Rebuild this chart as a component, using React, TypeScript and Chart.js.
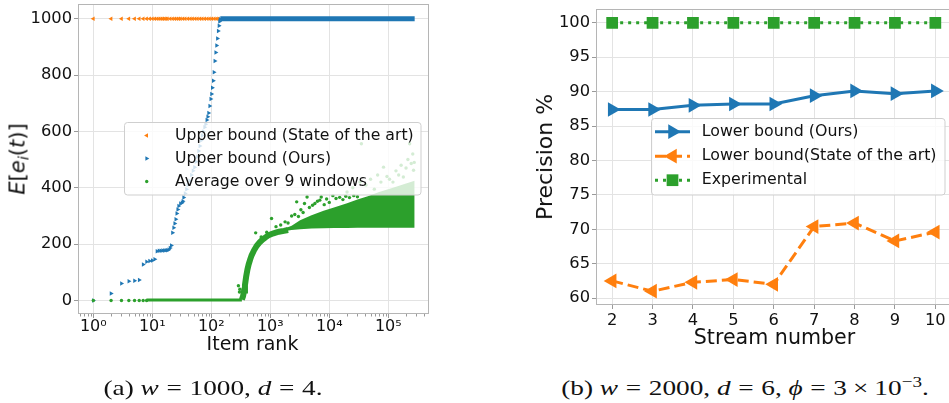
import React, { useEffect, useRef } from 'react';
import { Chart, registerables } from 'chart.js';

Chart.register(...registerables);

const FONT = "'DejaVu Sans', sans-serif";
const BLUE = '#1f77b4';
const ORANGE = '#ff7f0e';
const GREEN = '#2ca02c';
const GRID = '#e3e3e3';
const TICK = '#9a9a9a';
const FRAME = '#b5b5b5';

// ---------------- Panel (a) data ----------------
const rankTicks = [1, 10, 100, 1000, 10000, 100000];
const rankTickLabels = ['10⁰', '10¹', '10²', '10³', '10⁴', '10⁵'];
const errorTicks = [0, 200, 400, 600, 800, 1000];
const legendLabelsA = ['Upper bound (State of the art)', 'Upper bound (Ours)', 'Average over 9 windows'];

const sotaRanks = [1, 2, 3, 4, 5, 6, 7, 8, 9, 10, 11, 12, 13, 14, 15, 16, 17, 18, 20, 22, 24, 26, 28, 30, 33, 36, 40, 44, 48, 53, 58, 64, 70, 77, 85, 93, 102, 112, 122, 131];
const sotaValues = [1000, 1000, 1000, 1000, 1000, 1000, 1000, 1000, 1000, 1000, 1000, 1000, 1000, 1000, 1000, 1000, 1000, 1000, 1000, 1000, 1000, 1000, 1000, 1000, 1000, 1000, 1000, 1000, 1000, 1000, 1000, 1000, 1000, 1000, 1000, 1000, 1000, 1000, 1000, 1000];

const oursRanks = [1, 2, 3, 4, 5, 6, 7, 8, 9, 10, 11, 12, 13, 14, 15, 16, 17, 18, 19, 20, 21, 22, 23, 24, 25, 26, 27, 28, 30, 32, 33, 34, 36, 38, 40, 43, 46, 49, 52, 55, 58, 61, 64, 67, 70, 73, 77, 80, 84, 87, 90, 94, 98, 101, 104, 108, 111, 115, 119, 123, 127, 131, 135, 138, 141];
const oursValues = [0, 25, 60, 68, 70, 73, 128, 137, 140, 142, 146, 175, 176, 176, 177, 177, 178, 178, 180, 186, 195, 240, 258, 273, 288, 309, 323, 335, 344, 347, 352, 365, 380, 395, 410, 425, 445, 460, 473, 492, 510, 530, 548, 568, 585, 600, 615, 625, 640, 652, 665, 690, 715, 733, 755, 780, 810, 850, 880, 905, 930, 956, 975, 990, 998];
const oursFlatRanks = [142, 280000];
const oursFlatValues = [1000, 1000];

const avgZeroRanks = [1, 2, 3, 4, 5, 6, 7, 8];
const avgZeroValues = [0, 0, 0, 0, 0, 0, 0, 0];
const avgFlatRanks = [8, 330];
const avgFlatValues = [2, 2];
const avgCurveRanks = [330, 345, 360, 372, 390, 410, 430, 455, 482, 530, 590, 660, 740, 830, 930, 1050, 1200, 1400, 1700, 2000];
const avgCurveValues = [3, 15, 35, 55, 85, 110, 128, 145, 160, 178, 194, 206, 216, 224, 231, 236, 240, 244, 247, 250];
const bandRanks = [1500, 2300, 3200, 5000, 8000, 12000, 20000, 30000, 45000, 70000, 120000, 200000, 280000];
const bandLow = [244, 250, 253, 255, 256, 257, 257, 258, 258, 258, 258, 258, 258];
const bandHigh = [250, 265, 285, 302, 318, 330, 345, 358, 370, 385, 400, 415, 425];
const avgOutlierRanks = [288, 300, 305, 398, 440, 565, 700, 870, 1050, 1250, 1500, 1780, 2000, 2300, 2600, 2800, 3000, 3300, 3600, 3800, 4200, 4600, 5200, 5700, 6300, 6900, 7300, 8200, 9000, 10000, 11500, 13000, 15000, 17000, 19000, 22000, 26000, 30000,
  20000, 25000, 33000, 35000, 42000, 50000, 58000, 66000, 75000, 83000, 95000, 105000, 120000, 135000, 150000, 165000, 180000, 200000, 215000, 230000, 245000, 260000, 268000, 275000];
const avgOutlierValues = [52, 30, 40, 83, 125, 240, 225, 242, 291, 262, 268, 279, 275, 300, 305, 350, 298, 322, 312, 344, 367, 330, 338, 344, 352, 356, 367, 340, 360, 348, 372, 362, 366, 358, 370, 365, 372, 368,
  385, 400, 420, 556, 410, 430, 395, 445, 420, 473, 440, 430, 420, 460, 445, 480, 438, 470, 500, 556, 486, 520, 462, 490];

// ---------------- Panel (b) data ----------------
const streams = [2, 3, 4, 5, 6, 7, 8, 9, 10];
const oursLower = [87.4, 87.4, 88.0, 88.2, 88.2, 89.4, 90.1, 89.7, 90.1];
const sotaLower = [62.5, 61.0, 62.3, 62.7, 62.0, 70.4, 70.9, 68.3, 69.6];
const experimental = [100, 100, 100, 100, 100, 100, 100, 100, 100];
const precisionTicks = [60, 65, 70, 75, 80, 85, 90, 95, 100];
const legendLabelsB = ['Lower bound (Ours)', 'Lower bound(State of the art)', 'Experimental'];

type Marker = { style: 'triangle' | 'rect' | 'circle'; rotation: number; radius: number };

function pts(xs: number[], ys: number[]) {
  return xs.map((x, i) => ({ x, y: ys[i] }));
}

function drawMarker(ctx: CanvasRenderingContext2D, m: Marker, x: number, y: number, color: string) {
  ctx.save();
  ctx.translate(x, y);
  ctx.rotate((m.rotation * Math.PI) / 180);
  ctx.fillStyle = color;
  ctx.beginPath();
  if (m.style === 'triangle') {
    for (let k = 0; k < 3; k++) {
      const a = (k * 2 * Math.PI) / 3;
      const px = Math.sin(a) * m.radius;
      const py = -Math.cos(a) * m.radius;
      if (k === 0) ctx.moveTo(px, py);
      else ctx.lineTo(px, py);
    }
    ctx.closePath();
  } else if (m.style === 'rect') {
    const s = m.radius * Math.SQRT1_2;
    ctx.rect(-s, -s, 2 * s, 2 * s);
  } else {
    ctx.arc(0, 0, m.radius, 0, Math.PI * 2);
  }
  ctx.fill();
  ctx.restore();
}

function drawLegendBox(ctx: CanvasRenderingContext2D, x0: number, y0: number, x1: number, y1: number) {
  const r = 3;
  ctx.save();
  ctx.beginPath();
  ctx.moveTo(x0 + r, y0);
  ctx.arcTo(x1, y0, x1, y1, r);
  ctx.arcTo(x1, y1, x0, y1, r);
  ctx.arcTo(x0, y1, x0, y0, r);
  ctx.arcTo(x0, y0, x1, y0, r);
  ctx.closePath();
  ctx.fillStyle = 'rgba(255,255,255,0.8)';
  ctx.fill();
  ctx.strokeStyle = '#cfcfcf';
  ctx.lineWidth = 1;
  ctx.stroke();
  ctx.restore();
}

function drawFrame(ctx: CanvasRenderingContext2D, a: any) {
  ctx.save();
  ctx.strokeStyle = FRAME;
  ctx.lineWidth = 1;
  ctx.strokeRect(Math.round(a.left) + 0.5, Math.round(a.top) + 0.5, Math.round(a.right - a.left) - 1, Math.round(a.bottom - a.top) - 1);
  ctx.restore();
}

const markA: Marker[] = [
  { style: 'triangle', rotation: -90, radius: 2.6 },
  { style: 'triangle', rotation: 90, radius: 2.6 },
  { style: 'circle', rotation: 0, radius: 1.7 },
];
const markB: Marker[] = [
  { style: 'triangle', rotation: 90, radius: 8.5 },
  { style: 'triangle', rotation: -90, radius: 8.5 },
  { style: 'rect', rotation: 0, radius: 8.3 },
];

function PanelA() {
  const ref = useRef<HTMLCanvasElement>(null);
  useEffect(() => {
    const overlay = {
      id: 'overlayA',
      afterDatasetsDraw(chart: any) {
        const { ctx, chartArea: a, scales } = chart;
        const xs = scales.x;
        ctx.save();
        ctx.strokeStyle = TICK;
        ctx.lineWidth = 1;
        for (let e = -1; e <= 5; e++) {
          for (let m = 2; m <= 9; m++) {
            const v = m * Math.pow(10, e);
            if (v < xs.min || v > xs.max) continue;
            const px = Math.round(xs.getPixelForValue(v)) + 0.5;
            ctx.beginPath();
            ctx.moveTo(px, a.bottom);
            ctx.lineTo(px, a.bottom + 2.5);
            ctx.stroke();
          }
        }
        ctx.restore();
        drawFrame(ctx, a);
        drawLegendBox(ctx, 124.5, 122.5, 421, 195);
        const rows = [135.5, 158.5, 181.5];
        const colors = [ORANGE, BLUE, GREEN];
        ctx.save();
        ctx.font = `15.7px ${FONT}`;
        ctx.fillStyle = '#111';
        ctx.textBaseline = 'middle';
        legendLabelsA.forEach((lab, i) => {
          drawMarker(ctx, markA[i], 146.7, rows[i], colors[i]);
          ctx.fillText(lab, 175, rows[i]);
        });
        ctx.restore();
      },
    };
    const scatterDs = (data: any[], color: string, m: Marker) => ({
      data,
      showLine: false,
      pointStyle: m.style === 'circle' ? 'circle' : 'triangle',
      pointRotation: m.rotation,
      pointRadius: m.radius,
      pointBackgroundColor: color,
      pointBorderColor: color,
      pointBorderWidth: 0,
      borderColor: color,
      backgroundColor: color,
    });
    const lineDs = (data: any[], color: string, width: number) => ({
      data,
      showLine: true,
      borderColor: color,
      borderWidth: width,
      pointRadius: 0,
      tension: 0,
      fill: false,
    });
    const chart = new Chart(ref.current!, {
      type: 'line',
      data: {
        datasets: [
          scatterDs(pts(avgOutlierRanks, avgOutlierValues), GREEN, markA[2]),
          scatterDs(pts(avgZeroRanks, avgZeroValues), GREEN, markA[2]),
          lineDs(pts(avgFlatRanks, avgFlatValues), GREEN, 3),
          lineDs(pts(avgCurveRanks, avgCurveValues), GREEN, 6),
          { ...lineDs(pts(bandRanks, bandHigh), GREEN, 0), fill: '+1', backgroundColor: GREEN },
          lineDs(pts(bandRanks, bandLow), GREEN, 0),
          scatterDs(pts(oursRanks, oursValues), BLUE, markA[1]),
          lineDs(pts(oursFlatRanks, oursFlatValues), BLUE, 5),
          scatterDs(pts(sotaRanks, sotaValues), ORANGE, markA[0]),
        ] as any,
      },
      options: {
        animation: false,
        responsive: false,
        layout: { padding: { left: 0, top: 3, right: 11, bottom: 0 } },
        plugins: { legend: { display: false }, tooltip: { enabled: false } },
        scales: {
          x: {
            type: 'logarithmic',
            min: 0.55,
            max: 490000,
            afterBuildTicks: (s: any) => {
              s.ticks = rankTicks.map((v) => ({ value: v }));
            },
            afterFit: (s: any) => {
              s.height = 41;
              s.paddingLeft = 0;
              s.paddingRight = 0;
            },
            ticks: {
              autoSkip: false,
              maxRotation: 0,
              padding: -1,
              color: '#111',
              font: { family: FONT, size: 16 },
              callback: (_v: any, i: number) => rankTickLabels[i],
            },
            grid: { color: GRID, tickColor: TICK, tickLength: 4, drawTicks: true },
            border: { display: false },
          },
          y: {
            type: 'linear',
            min: -48,
            max: 1052,
            afterBuildTicks: (s: any) => {
              s.ticks = errorTicks.map((v) => ({ value: v }));
            },
            afterFit: (s: any) => {
              s.width = 78;
              s.paddingTop = 0;
              s.paddingBottom = 0;
            },
            ticks: {
              padding: 2,
              color: '#111',
              font: { family: FONT, size: 16.3 },
              callback: (v: any) => String(v),
            },
            grid: { color: GRID, tickColor: TICK, tickLength: 4, drawTicks: true },
            border: { display: false },
          },
        },
      } as any,
      plugins: [overlay],
    });
    return () => chart.destroy();
  }, []);
  return <canvas ref={ref} width={440} height={355} style={{ position: 'absolute', left: 0, top: 0, width: 440, height: 355 }} />;
}

function PanelB() {
  const ref = useRef<HTMLCanvasElement>(null);
  useEffect(() => {
    const colors = [BLUE, ORANGE, GREEN];
    const dashes = [[], [11, 5], [3, 5]];
    const overlay = {
      id: 'overlayB',
      afterDatasetsDraw(chart: any) {
        const { ctx, chartArea: a } = chart;
        drawFrame(ctx, a);
        drawLegendBox(ctx, 171.5, 118.5, 465, 195);
        const rows = [131.7, 156.2, 180.2];
        ctx.save();
        legendLabelsB.forEach((lab, i) => {
          ctx.save();
          ctx.strokeStyle = colors[i];
          ctx.lineWidth = 3;
          ctx.setLineDash(dashes[i]);
          ctx.beginPath();
          ctx.moveTo(175, rows[i]);
          ctx.lineTo(210, rows[i]);
          ctx.stroke();
          ctx.restore();
          drawMarker(ctx, markB[i], 192.5, rows[i], colors[i]);
          ctx.font = `15.8px ${FONT}`;
          ctx.fillStyle = '#111';
          ctx.textBaseline = 'middle';
          ctx.fillText(lab, 221.7, rows[i]);
        });
        ctx.restore();
      },
    };
    const seriesDs = (vals: number[], i: number) => ({
      data: pts(streams, vals),
      showLine: true,
      borderColor: colors[i],
      borderWidth: 3,
      borderDash: dashes[i],
      borderCapStyle: 'butt',
      tension: 0,
      fill: false,
      pointStyle: markB[i].style,
      pointRotation: markB[i].rotation,
      pointRadius: markB[i].radius,
      pointBackgroundColor: colors[i],
      pointBorderColor: colors[i],
      pointBorderWidth: 0,
    });
    const chart = new Chart(ref.current!, {
      type: 'line',
      data: {
        datasets: [seriesDs(experimental, 2), seriesDs(sotaLower, 1), seriesDs(oursLower, 0)] as any,
      },
      options: {
        animation: false,
        responsive: false,
        layout: { padding: { left: 0, top: 9, right: 7, bottom: 0 } },
        plugins: { legend: { display: false }, tooltip: { enabled: false } },
        scales: {
          x: {
            type: 'linear',
            min: 1.6,
            max: 10.4,
            afterBuildTicks: (s: any) => {
              s.ticks = streams.map((v) => ({ value: v }));
            },
            afterFit: (s: any) => {
              s.height = 50;
              s.paddingLeft = 0;
              s.paddingRight = 0;
            },
            ticks: {
              autoSkip: false,
              maxRotation: 0,
              padding: 2,
              color: '#111',
              font: { family: FONT, size: 16.3 },
              callback: (v: any) => String(v),
            },
            grid: { color: GRID, tickColor: TICK, tickLength: 4, drawTicks: true },
            border: { display: false },
          },
          y: {
            type: 'linear',
            min: 59,
            max: 102,
            afterBuildTicks: (s: any) => {
              s.ticks = precisionTicks.map((v) => ({ value: v }));
            },
            afterFit: (s: any) => {
              s.width = 116;
              s.paddingTop = 0;
              s.paddingBottom = 0;
            },
            ticks: {
              padding: 2,
              color: '#111',
              font: { family: FONT, size: 16.3 },
              callback: (v: any) => String(v),
            },
            grid: { color: GRID, tickColor: TICK, tickLength: 4, drawTicks: true },
            border: { display: false },
          },
        },
      } as any,
      plugins: [overlay],
    });
    return () => chart.destroy();
  }, []);
  return <canvas ref={ref} width={480} height={355} style={{ position: 'absolute', left: 480, top: 0, width: 480, height: 355 }} />;
}

const centered = (x: number, y: number, extra: any = {}) => ({
  position: 'absolute' as const,
  left: x,
  top: y,
  transform: 'translate(-50%, -50%)',
  whiteSpace: 'nowrap' as const,
  lineHeight: 1,
  color: '#111',
  ...extra,
});

const Rel = ({ c }: { c: string }) => <span style={{ padding: '0 0.28em' }}>{c}</span>;

export default function App() {
  return (
    <div style={{ position: 'fixed', left: 0, top: 0, width: 949, height: 403, overflow: 'hidden', background: '#fff', fontFamily: FONT }}>
      <PanelA />
      <PanelB />
      <div style={centered(18, 159, { transform: 'translate(-50%, -50%) rotate(-90deg)', fontSize: 21 })}>
        <i>E</i>[<i>e</i>
        <i style={{ fontSize: '0.7em', position: 'relative', top: '0.25em' }}>i</i>(<i>t</i>)]
      </div>
      <div style={centered(252.5, 343, { fontSize: 19 })}>Item rank</div>
      <div style={centered(545, 157, { transform: 'translate(-50%, -50%) rotate(-90deg)', fontSize: 22 })}>Precision %</div>
      <div style={centered(774.5, 337, { fontSize: 20.6 })}>Stream number</div>
      <div style={centered(213, 388, { fontFamily: "'Liberation Serif', serif", fontSize: 22, transform: 'translate(-50%, -50%) scaleX(1.24)' })}>
        (a) <i>w</i><Rel c="=" />1000, <i>d</i><Rel c="=" />4.
      </div>
      <div style={centered(745, 388, { fontFamily: "'Liberation Serif', serif", fontSize: 22, transform: 'translate(-50%, -50%) scaleX(1.24)' })}>
        (b) <i>w</i><Rel c="=" />2000, <i>d</i><Rel c="=" />6, <i>ϕ</i><Rel c="=" />3<span style={{ padding: '0 0.22em' }}>×</span>10<sup style={{ fontSize: '0.7em', lineHeight: 0 }}>−3</sup>.
      </div>
    </div>
  );
}
